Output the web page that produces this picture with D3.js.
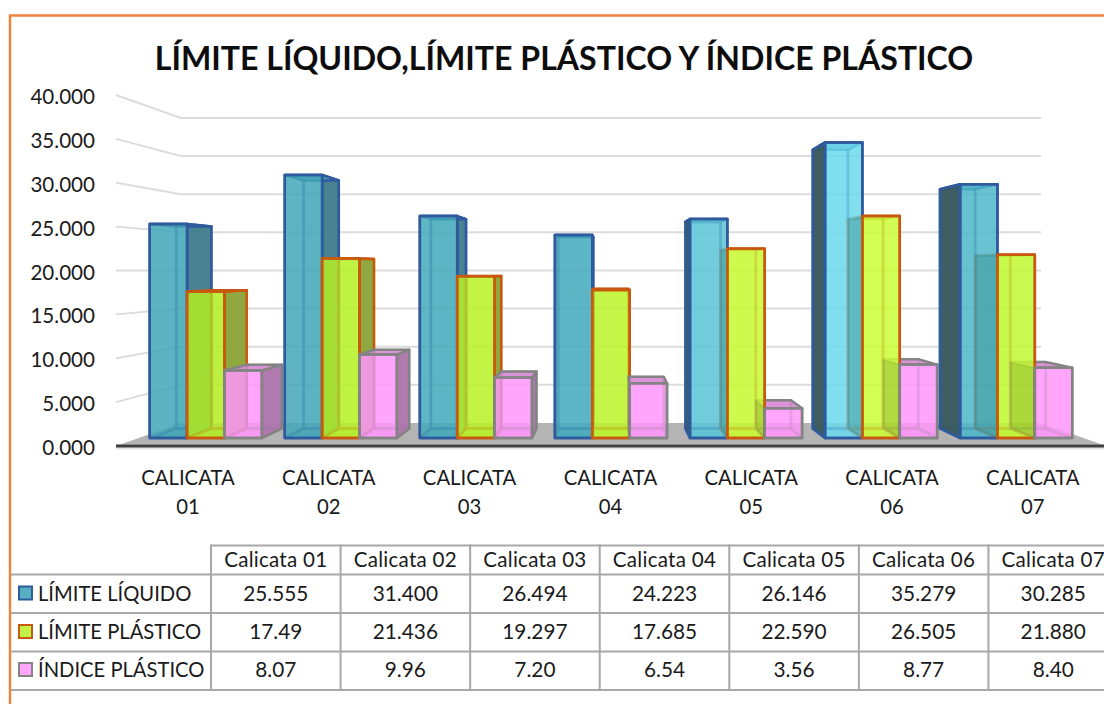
<!DOCTYPE html>
<html><head><meta charset="utf-8">
<script src="https://cdnjs.cloudflare.com/ajax/libs/d3/7.8.5/d3.min.js"></script>
<style>html,body{margin:0;padding:0;background:#fff;overflow:hidden}svg{display:block}text{font-family:Lato,"Open Sans",sans-serif;fill:#1a1a1a}</style>
</head><body><svg id="c" width="1104" height="704"></svg>
<script>
const titleText = "LÍMITE LÍQUIDO,LÍMITE PLÁSTICO Y ÍNDICE PLÁSTICO";
const categories = ["Calicata 01","Calicata 02","Calicata 03","Calicata 04","Calicata 05","Calicata 06","Calicata 07"];
const seriesNames = ["LÍMITE LÍQUIDO","LÍMITE PLÁSTICO","ÍNDICE PLÁSTICO"];
const liquidValues = [25.555,31.400,26.494,24.223,26.146,35.279,30.285];
const plasticValues = [17.49,21.436,19.297,17.685,22.590,26.505,21.880];
const indexValues = [8.07,9.96,7.20,6.54,3.56,8.77,8.40];
const liquidLabels = ["25.555","31.400","26.494","24.223","26.146","35.279","30.285"];
const plasticLabels = ["17.49","21.436","19.297","17.685","22.590","26.505","21.880"];
const indexLabels = ["8.07","9.96","7.20","6.54","3.56","8.77","8.40"];
const yTicks = [0,5,10,15,20,25,30,35,40];

const svg = d3.select("#c");
svg.append("path").attr("d","M10,704V15.5H1104").attr("fill","none").attr("stroke","#f0823c").attr("stroke-width",2.4);
svg.append("text").attr("x",564).attr("y",70).attr("text-anchor","middle").attr("font-size",32.1).attr("font-weight",700).style("fill","#0d0d0d").text(titleText);

// perspective
const vx=610.5, vy=270, sFront=1, sBack=0.869, sBarF=0.955, sBarB=0.90;
const y = d3.scaleLinear().domain([0,40]).range([446,95]);
const x0 = d3.scaleBand().domain(categories).range([116,1106]);
const x1 = d3.scaleBand().domain(seriesNames).range([12,129.4]);
const xLabel = d3.scaleBand().domain(categories).range([117.6,1103.2]);
const P=(x,yy,s)=>[vx+(x-vx)*s, vy+(yy-vy)*s];
const line=pts=>"M"+pts.map(p=>p.join(",")).join("L")+"Z";
const open=pts=>"M"+pts.map(p=>p.join(",")).join("L");

const xL=x0.range()[0], xR=x0.range()[1];
svg.append("path").attr("d",line([P(xL,y(0),sFront),P(xL,y(0),sBack),P(xR,y(0),sBack),P(xR,y(0),sFront)])).attr("fill","#b4b4b4");
svg.append("g").selectAll("path").data(yTicks.slice(1)).join("path")
 .attr("d",v=>open([P(xL,y(v),sFront),P(xL,y(v),sBack),P(xR,y(v),sBack)]))
 .attr("fill","none").attr("stroke","#dcdcdc").attr("stroke-width",2);
svg.append("path").attr("d",open([P(xL,y(0)+1,sFront),P(xR,y(0)+1,sFront)])).attr("stroke","#e6e6e6").attr("stroke-width",5).attr("fill","none");
svg.append("path").attr("d",open([P(xL,y(0),sFront),P(xR,y(0),sFront)])).attr("stroke","#404040").attr("stroke-width",3).attr("fill","none");

const ax=svg.append("g").attr("transform","translate(95,2)").call(d3.axisLeft(y).tickValues(yTicks).tickFormat(d3.format(".3f")).tickSize(0).tickPadding(0));
ax.select(".domain").remove();
ax.selectAll("text").attr("font-size",20.6).attr("font-family",null);

const cl=svg.append("g").selectAll("text").data(categories).join("text")
 .attr("text-anchor","middle").attr("font-size",20.3)
 .attr("x",d=>xLabel(d)+xLabel.bandwidth()/2).attr("y",485);
cl.append("tspan").text(d=>d.split(" ")[0].toUpperCase());
cl.append("tspan").attr("x",d=>xLabel(d)+xLabel.bandwidth()/2).attr("dy",29).text(d=>d.split(" ")[1]);

// Observed face colours are turned into the translucent paint that yields them on white.
const frontAlpha=.85;
const paint=c=>{const o=d3.rgb(c),f=v=>Math.max(0,Math.min(255,(v-(1-frontAlpha)*255)/frontAlpha));return d3.rgb(f(o.r),f(o.g),f(o.b)).formatHex();};
const idx=[0,3,4,5,6];
const styles=[
 {vals:liquidValues,stroke:"#2f5a9e",
  front:d3.scaleLinear().domain(idx).range(["#5db3c1","#60b7c6","#73cddb","#82dfee","#68c2d1"]),
  right:"#437f8e",left:"#38595f",leftO:.97,top:"#4fa0b2",swatch:"#55afc1"},
 {vals:plasticValues,stroke:"#c8590f",
  front:d3.scaleLinear().domain(idx).range(["#bef044","#c5f54a","#cffa52","#d2fd55","#c9fa50"]),
  right:"#8ba53a",left:"#2f8a8a",leftO:.42,top:"#a8cc3c",swatch:"#c3f246"},
 {vals:indexValues,stroke:"#848484",
  front:d3.scaleLinear().domain(idx).range(["#ffa6fb","#ffa6fb","#ffa6fb","#ffa6fb","#ffa6fb"]),
  right:"#b077ad",left:"#6a8a10",leftO:.3,top:"#d88ad6",swatch:"#ffa6fb"}
];

const bars=svg.append("g");
categories.forEach((cat,i)=>{
 const geo=seriesNames.map((nm,k)=>{
  const st=styles[k], a=x0(cat)+x1(nm), b=a+x1.bandwidth(), y0=y(0), yt=y(st.vals[i]);
  return {k,st,a,b,col:paint(st.front(i)),
   F:[P(a,y0,sBarF),P(b,y0,sBarF),P(b,yt,sBarF),P(a,yt,sBarF)],
   B:[P(a,y0,sBarB),P(b,y0,sBarB),P(b,yt,sBarB),P(a,yt,sBarB)]};
 });
 const face=(g,pts,fill,fo,so)=>bars.append("path").attr("stroke-linejoin","round").attr("d",line(pts)).attr("fill",fill).attr("fill-opacity",fo).attr("stroke",g.st.stroke).attr("stroke-opacity",so).attr("stroke-width",2.5);
 const shell=g=>{
  face(g,g.B,g.col,.1,.3);
  face(g,[g.F[0],g.F[1],g.B[1],g.B[0]],g.col,.4,.3);
 };
 const top=g=>face(g,[g.F[3],g.F[2],g.B[2],g.B[3]],g.st.top,.92,1);
 const rightSide=g=>{if(g.b<vx) face(g,[g.F[1],g.B[1],g.B[2],g.F[2]],g.st.right,.97,1);};
 const leftSide=g=>{if(g.a>vx) face(g,[g.F[0],g.B[0],g.B[3],g.F[3]],g.st.left,g.st.leftO,g.st.leftO>.9?1:0);};
 // the box's rear edges, seen through the translucent front
 const inner=g=>{
  bars.append("path").attr("fill","none").attr("stroke",g.st.stroke).attr("stroke-opacity",.17).attr("stroke-width",3)
   .attr("d",open([g.B[3],g.B[0],g.B[1],g.B[2]])+open([g.F[0],g.B[0]])+open([g.F[1],g.B[1]]));
 };
 const outline=g=>bars.append("path").attr("d",line(g.F)).attr("fill","none").attr("stroke",g.st.stroke).attr("stroke-width",2.5).attr("stroke-linejoin","round");
 const right=geo.filter(g=>g.a>vx).reverse();
 const rest=geo.filter(g=>g.a<=vx);
 rest.forEach(g=>{shell(g);rightSide(g);top(g);face(g,g.F,g.col,frontAlpha,1);inner(g);outline(g);});
 right.forEach(g=>{shell(g);top(g);});
 right.slice().reverse().forEach(g=>{face(g,g.F,g.col,frontAlpha,1);inner(g);leftSide(g);outline(g);});
});

// data table
const colX=d3.scaleBand().domain(categories).range([211,1118]);
const rowY=[545.5,574.5,613,651.5,690];
const tableRows=[liquidLabels,plasticLabels,indexLabels];
const t=svg.append("g");
const bc="#a8a8a8";
const hl=(a,b,yy)=>t.append("line").attr("x1",a).attr("x2",b).attr("y1",yy).attr("y2",yy).attr("stroke",bc).attr("stroke-width",2);
hl(211,1104,rowY[0]);
rowY.slice(1).forEach(r=>hl(11,1104,r));
categories.forEach(c=>t.append("line").attr("x1",colX(c)).attr("x2",colX(c)).attr("y1",rowY[0]-1).attr("y2",rowY[4]+1).attr("stroke",bc).attr("stroke-width",2));
t.selectAll("text.h").data(categories).join("text").attr("class","h").attr("text-anchor","middle")
 .attr("font-size",20.6).attr("letter-spacing",.25).attr("x",c=>colX(c)+colX.bandwidth()/2).attr("y",567).text(d=>d);
tableRows.forEach((row,r)=>{
 const by=[600.5,639,677][r];
 t.selectAll("text.r"+r).data(row).join("text").attr("class","r"+r).attr("text-anchor","middle")
  .attr("font-size",20.8).attr("x",(d,i)=>colX(categories[i])+colX.bandwidth()/2).attr("y",by).text(d=>d);
 t.append("text").attr("x",38).attr("y",by).attr("font-size",20.2).text(seriesNames[r]);
 t.append("rect").attr("x",19).attr("y",by-14).attr("width",13).attr("height",13).attr("fill",styles[r].swatch).attr("stroke",styles[r].stroke).attr("stroke-width",2);
});
</script></body></html>
